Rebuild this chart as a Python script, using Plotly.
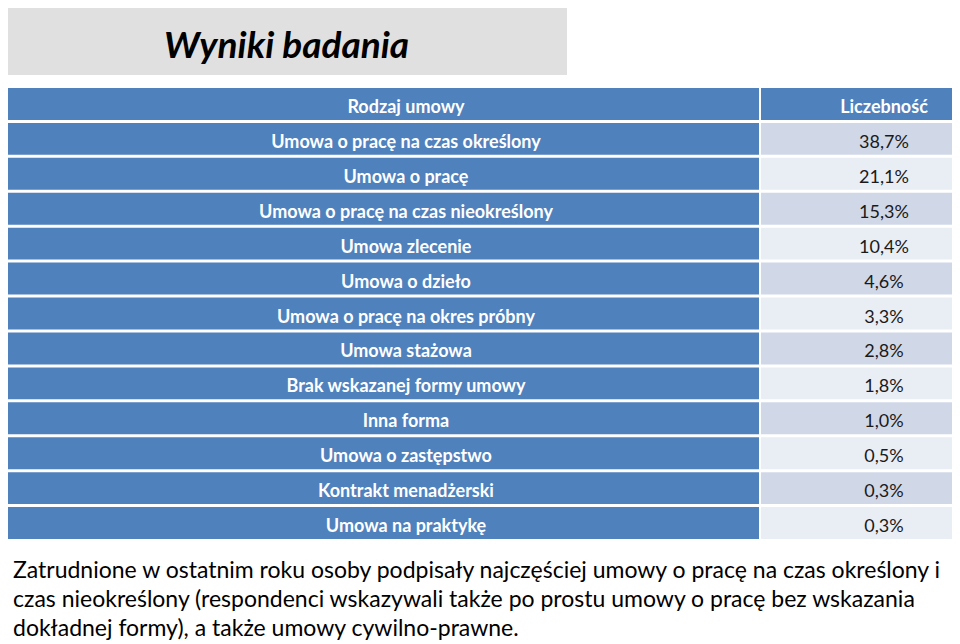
import plotly.graph_objects as go

# ---- data ----
CONTRACT_TYPES = [
    "Umowa o pracę na czas określony",
    "Umowa o pracę",
    "Umowa o pracę na czas nieokreślony",
    "Umowa zlecenie",
    "Umowa o dzieło",
    "Umowa o pracę na okres próbny",
    "Umowa stażowa",
    "Brak wskazanej formy umowy",
    "Inna forma",
    "Umowa o zastępstwo",
    "Kontrakt menadżerski",
    "Umowa na praktykę",
]
SHARES = [38.7, 21.1, 15.3, 10.4, 4.6, 3.3, 2.8, 1.8, 1.0, 0.5, 0.3, 0.3]
HEADERS = ["Rodzaj umowy", "Liczebność"]

TITLE = "Wyniki badania"
NOTE_LINES = [
    "Zatrudnione w ostatnim roku osoby podpisały najczęściej umowy o pracę na czas określony i",
    "czas nieokreślony (respondenci wskazywali także po prostu umowy o pracę bez wskazania",
    "dokładnej formy), a także umowy cywilno-prawne.",
]

# page is drawn with the browser's 8px body margin, so work in page pixels
OFF = 8
W, H = 960 - OFF, 644 - OFF
BLUE = "#4f81bd"
ROW_A = "#d0d8e8"
ROW_B = "#e9edf4"
FONT = "Lato"

# column layout in page pixels
COL1 = (5, 759)
COL2 = (761, 958)
TEXT1_X = 406
TEXT2_X = 884
TABLE_TOP, TABLE_BOTTOM = 86.5, 540.5
GAP = 3  # white line between rows


def px_x(v):
    return (v - OFF) / W


def px_y(v):
    return 1 - (v - OFF) / H


def fmt_pct(v):
    return f"{v:.1f}%".replace(".", ",")


n_rows = len(CONTRACT_TYPES) + 1
rows = list(range(n_rows))
col1_text = [HEADERS[0]] + CONTRACT_TYPES
col2_text = [HEADERS[1]] + [fmt_pct(v) for v in SHARES]
col2_fill = [BLUE] + [ROW_A if i % 2 == 0 else ROW_B for i in range(len(SHARES))]
col2_font = ["white"] + ["#1a1a1a"] * len(SHARES)
row_h = (TABLE_BOTTOM - TABLE_TOP) / n_rows
bar_w = 1 - GAP / row_h
text_rows = [r + 4.5 / row_h for r in rows]  # text sits a little below cell centre

fig = go.Figure()

fig.add_trace(go.Bar(
    orientation="h", y=rows, x=[COL1[1] - COL1[0]] * n_rows, base=COL1[0],
    width=bar_w, marker=dict(color=BLUE, line=dict(width=0)),
    hoverinfo="skip", showlegend=False,
))
fig.add_trace(go.Bar(
    orientation="h", y=rows, x=[COL2[1] - COL2[0]] * n_rows, base=COL2[0],
    width=bar_w, marker=dict(color=col2_fill, line=dict(width=0)),
    hoverinfo="skip", showlegend=False,
))
fig.add_trace(go.Scatter(
    x=[TEXT1_X] * n_rows, y=text_rows, mode="text", text=col1_text,
    textposition="middle center",
    textfont=dict(family=FONT, size=18, color="white", weight="bold"),
    hoverinfo="skip", showlegend=False,
))
fig.add_trace(go.Scatter(
    x=[TEXT2_X] * n_rows, y=text_rows, mode="text", text=col2_text,
    textposition="middle center",
    textfont=dict(family=FONT, size=18, color=col2_font,
                  weight=["bold"] + ["normal"] * len(SHARES)),
    hoverinfo="skip", showlegend=False,
))

# title box
fig.add_shape(type="rect", xref="paper", yref="paper",
              x0=px_x(4), x1=px_x(567), y0=px_y(75), y1=px_y(3),
              fillcolor="#e0e0e0", line=dict(width=0), layer="below")
fig.add_annotation(text="<b><i>" + TITLE + "</i></b>", xref="paper", yref="paper",
                   x=px_x(286), y=px_y(43), showarrow=False,
                   xanchor="center", yanchor="middle",
                   font=dict(family=FONT, size=37, color="black"))

# note under the table
for i, line in enumerate(NOTE_LINES):
    fig.add_annotation(text=line, xref="paper", yref="paper",
                       x=px_x(11), y=px_y(569 + i * 29.2), showarrow=False,
                       xanchor="left", yanchor="middle",
                       font=dict(family=FONT, size=23, color="black"))

fig.update_layout(
    width=W, height=H,
    margin=dict(l=0, r=0, t=0, b=0),
    paper_bgcolor="white",
    plot_bgcolor="white",
    barmode="overlay",
    xaxis=dict(range=[OFF, 960], domain=[0, 1], visible=False, fixedrange=True),
    yaxis=dict(range=[n_rows - 0.5, -0.5], visible=False, fixedrange=True,
               domain=[px_y(TABLE_BOTTOM), px_y(TABLE_TOP)]),
)

fig.write_html("out.html")
